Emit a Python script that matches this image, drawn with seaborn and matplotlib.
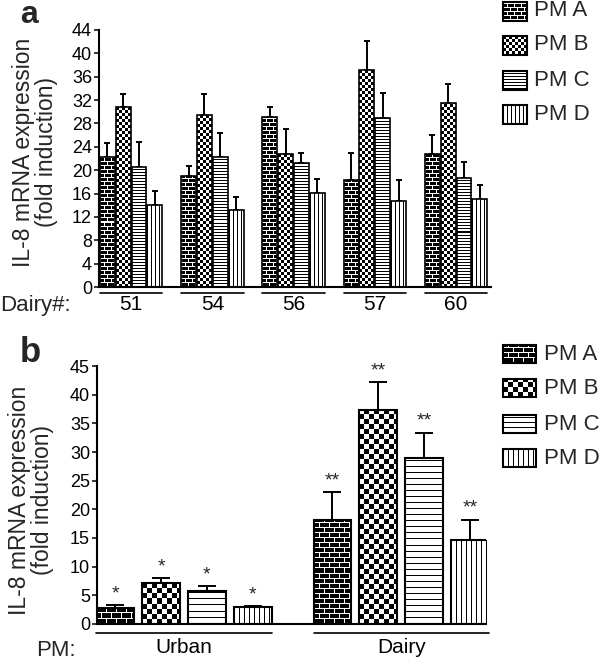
import numpy as np
import pandas as pd
import matplotlib
matplotlib.use('Agg')
import matplotlib.pyplot as plt
import matplotlib.transforms as mtransforms
from matplotlib.patches import Rectangle
import seaborn as sns

sns.set_style('ticks')
plt.rcParams['font.family'] = ['Liberation Sans', 'DejaVu Sans']

# ---- data ----
pm_levels = ['PM A', 'PM B', 'PM C', 'PM D']
pm_kinds = ['brick', 'check', 'hline', 'vline']

dairies = ['51', '54', '56', '57', '60']
a_mean = {
    'PM A': [22.3, 19.0, 29.1, 18.3, 22.8],
    'PM B': [30.8, 29.5, 22.8, 37.2, 31.5],
    'PM C': [20.5, 22.3, 21.2, 28.9, 18.7],
    'PM D': [14.0, 13.2, 16.1, 14.7, 15.0],
}
a_err = {
    'PM A': [2.3, 1.8, 1.7, 4.7, 3.2],
    'PM B': [2.2, 3.5, 4.2, 4.9, 3.3],
    'PM C': [4.3, 4.1, 1.7, 4.3, 2.7],
    'PM D': [2.5, 2.2, 2.4, 3.6, 2.4],
}

sources = ['Urban', 'Dairy']
b_mean = {
    'PM A': [2.8, 18.2],
    'PM B': [7.2, 37.3],
    'PM C': [5.8, 29.0],
    'PM D': [3.0, 14.7],
}
b_err = {
    'PM A': [0.5, 4.8],
    'PM B': [0.8, 4.9],
    'PM C': [0.8, 4.4],
    'PM D': [0.15, 3.5],
}
b_stars = ['*', '**']

W, H = 600, 662


def long_df(groups, mean, err, gname):
    rows = []
    for pm in pm_levels:
        for g, m, e in zip(groups, mean[pm], err[pm]):
            rows.append({gname: g, 'pm': pm, 'value': m, 'err': e})
    return pd.DataFrame(rows)


def pattern(kind, h, w, s):
    i, j = np.mgrid[0:h, 0:w]
    i = i[::-1]
    if kind == 'brick':
        rh, bw = s
        band = i // rh
        mortar = (i % rh == 0) | (((j + (band % 2) * (bw // 2)) % bw) == 0)
        return np.where(mortar, 0.0, 1.0)
    if kind == 'check':
        return (((i // s) + (j // s)) % 2).astype(float)
    if kind == 'hline':
        return (i % s == 0).astype(float)
    return (j % s == 0).astype(float)


def fill(ax, rect, kind, size, lw):
    x0, y0 = rect.get_x(), rect.get_y()
    x1, y1 = x0 + rect.get_width(), y0 + rect.get_height()
    (px0, py0), (px1, py1) = ax.transData.transform([(x0, y0), (x1, y1)])
    h = max(int(round(abs(py1 - py0))), 1)
    w = max(int(round(abs(px1 - px0))), 1)
    img = pattern(kind, h, w, size)
    rect.set_facecolor('white')
    rect.set_edgecolor('none')
    im = ax.imshow(img, cmap='gray_r', vmin=0, vmax=1, extent=(x0, x1, y0, y1),
                   origin='upper', interpolation='nearest', aspect='auto',
                   zorder=rect.get_zorder() + 0.1)
    im.set_clip_path(rect)
    ax.add_patch(Rectangle((x0, y0), x1 - x0, y1 - y0, fill=False,
                           edgecolor='black', linewidth=lw,
                           zorder=rect.get_zorder() + 0.2))


def panel(ax, df, gname, groups, ylim, yticks, xlim, width, gap,
          sizes, lw, capsize, line_y, pad, xfs, stars=None):
    sns.barplot(data=df, x=gname, y='value', hue='pm', order=groups,
                hue_order=pm_levels, width=width, gap=gap, errorbar=None,
                palette=['white'] * 4, edgecolor='black', linewidth=lw,
                legend=False, ax=ax)
    ax.set_xlim(*xlim)
    ax.set_ylim(*ylim)
    bars = sorted([p for p in ax.patches if p.get_height() > 0],
                  key=lambda p: p.get_x())
    blend = mtransforms.blended_transform_factory(ax.transData, ax.transAxes)
    for k, rect in enumerate(bars):
        g, h = divmod(k, 4)
        row = df[(df[gname] == groups[g]) & (df['pm'] == pm_levels[h])].iloc[0]
        fill(ax, rect, pm_kinds[h], sizes[h], lw)
        xc = rect.get_x() + rect.get_width() / 2
        ax.errorbar([xc], [row['value']], yerr=[[0], [row['err']]], fmt='none',
                    ecolor='black', elinewidth=1.4, capsize=capsize,
                    capthick=1.4, zorder=1)
        if stars is not None:
            ax.annotate(stars[g], (xc, row['value'] + row['err']),
                        xytext=(0, 2), textcoords='offset points',
                        ha='center', va='bottom', fontsize=14)
    for g in range(len(groups)):
        grp = bars[g * 4:(g + 1) * 4]
        left = grp[0].get_x()
        right = grp[-1].get_x() + grp[-1].get_width()
        ax.plot([left, right], [line_y, line_y], color='black', lw=1.2,
                transform=blend, clip_on=False)
    ax.set_xlim(*xlim)
    ax.set_ylim(*ylim)
    ax.set_yticks(yticks)
    ax.set_xlabel('')
    ax.tick_params(axis='y', direction='out', length=3.5, width=1.1,
                   pad=1.5, labelsize=13, colors='black')
    ax.tick_params(axis='x', length=0, pad=pad, labelsize=xfs,
                   colors='black')
    for side in ['left', 'bottom']:
        ax.spines[side].set_linewidth(1.5)
        ax.spines[side].set_color('black')
    sns.despine(ax=ax)
    ax.set_ylabel('IL-8 mRNA expression\n(fold induction)', fontsize=16.5,
                  linespacing=1.0)
    ax.yaxis.label.set_va('center')


fig = plt.figure(figsize=(6, 6.62), dpi=100)

# panel a
ax_a = fig.add_axes([99 / W, 1 - 287 / H, 392 / W, 257 / H])
df_a = long_df(dairies, a_mean, a_err, 'dairy')
panel(ax_a, df_a, 'dairy', dairies, (0, 44), np.arange(0, 45, 4),
      (-0.395, 4.43), 0.78, 0.06,
      [(4, 7), 3, 3, 4], 1.2, 2.5, -6 / 257, 6, 15)
ax_a.yaxis.set_label_coords((35 - 99) / 392, (287 - 152) / 257)

# panel b
ax_b = fig.add_axes([97 / W, 1 - 624 / H, 389 / W, 258 / H])
df_b = long_df(sources, b_mean, b_err, 'source')
panel(ax_b, df_b, 'source', sources, (0, 45), np.arange(0, 46, 5),
      (-0.40, 1.39), 0.845, 0.18,
      [(5, 10), 5, 6, 5], 1.5, 6.5, -9 / 258, 10, 15, stars=b_stars)
ax_b.yaxis.set_label_coords((31 - 97) / 389, (624 - 500) / 258)

# legends and labels drawn in a pixel-space overlay
lax = fig.add_axes([0, 0, 1, 1], zorder=5)
lax.set_xlim(0, W)
lax.set_ylim(0, H)
lax.axis('off')


def legend(x, w, h, centers, tx, sizes):
    for pm, kind, s, cy in zip(pm_levels, pm_kinds, sizes, centers):
        r = Rectangle((x, H - cy - h / 2), w, h, facecolor='white',
                      edgecolor='none')
        lax.add_patch(r)
        fill(lax, r, kind, s, 1.5)
        lax.text(tx, H - cy, pm, fontsize=16, va='center', ha='left')


legend(503, 24, 19, [11, 45, 80, 114], 534, [(4, 7), 3, 3, 4])
legend(503, 33, 18, [354, 388, 424, 458], 544, [(5, 10), 5, 5, 5])
lax.set_xlim(0, W)
lax.set_ylim(0, H)

fig.text(20 / W, 1.0, 'a', fontsize=23, fontweight='bold',
         ha='left', va='top')
fig.text(20 / W, 1 - 362 / H, 'b', fontsize=25, fontweight='bold',
         ha='left', va='baseline')
fig.text(0 / W, 1 - 305 / H, 'Dairy#:', fontsize=16, ha='left', va='center')
fig.text(36 / W, 1 - 650 / H, 'PM:', fontsize=16, ha='left', va='center')

fig.savefig('out.png', dpi=100)
